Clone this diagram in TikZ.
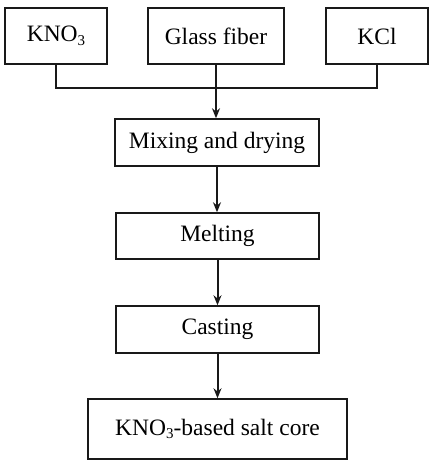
\documentclass[tikz,border=0pt]{standalone}
\usepackage{fontspec}
\setmainfont{Liberation Serif}
\usepackage{tikz}
\usetikzlibrary{arrows.meta, positioning}
\definecolor{linegray}{RGB}{25,25,25}
\newcommand{\subthree}{\raisebox{-0.35ex}{\fontsize{15}{15}\selectfont 3}}

\begin{document}
\begin{tikzpicture}[x=1pt, y=-1pt,
    procbox/.style={draw=linegray, line width=1.5pt, inner sep=0pt,
      font=\fontsize{23.5}{27}\selectfont},
    flow/.style={draw=linegray, line width=2pt,
      -{Stealth[length=10pt, width=8pt]}}]
    \useasboundingbox (0,0) rectangle (434,467);
    % raw materials
    \node[procbox, minimum width=102pt, minimum height=56pt] (kno) at (56,36)
      {KNO\subthree};
    \node[procbox, minimum width=136pt, minimum height=56pt] (glass) at (216,36)
      {Glass fiber};
    \node[procbox, minimum width=102pt, minimum height=56pt] (kcl) at (377,36)
      {KCl};
    \coordinate (join) at (216,88);
    % process steps
    \node[procbox, minimum width=204pt, minimum height=47pt] (mix) at (217,142.5)
      {Mixing and drying};
    \node[procbox, minimum width=203pt, minimum height=46pt] (melt) at (217.5,236)
      {Melting};
    \node[procbox, minimum width=203pt, minimum height=47pt] (cast) at (217.5,329.5)
      {Casting};
    \node[procbox, minimum width=259pt, minimum height=60pt] (core) at (217.5,429)
      {KNO\subthree-based salt core};
    % connectors
    \draw[draw=linegray, line width=2pt] (kno.south) |- (join) -| (kcl.south);
    \draw[flow] (glass.south) -- (glass.south |- mix.north);
    \draw[flow] (mix.south) -- (mix.south |- melt.north);
    \draw[flow] (melt.south) -- (melt.south |- cast.north);
    \draw[flow] (cast.south) -- (cast.south |- core.north);
  \end{tikzpicture}
\end{document}
